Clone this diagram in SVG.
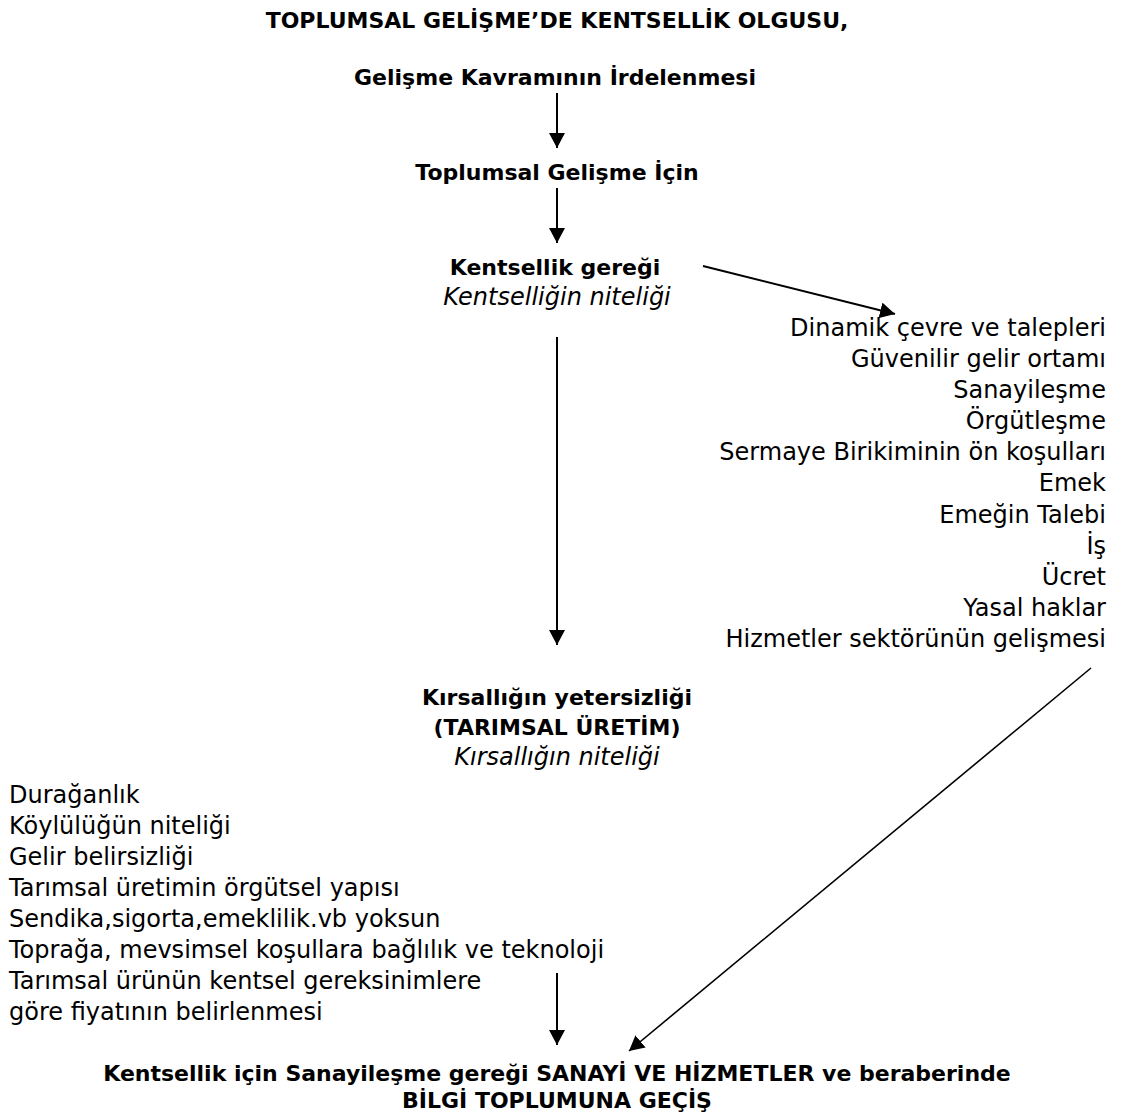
<svg xmlns="http://www.w3.org/2000/svg" width="1124" height="1120" viewBox="0 0 1124 1120">
<defs>
<marker id="ah" viewBox="0 0 15 16" refX="15" refY="8" markerWidth="15" markerHeight="16" markerUnits="userSpaceOnUse" orient="auto">
<path d="M0,0 L15,8 L0,16 z" fill="#000"/>
</marker>
<style>
text{font-family:"DejaVu Sans","Liberation Sans",sans-serif;fill:#000;font-size:24px}
.b{font-weight:bold;font-size:22px;text-anchor:middle}
.i{font-style:italic;text-anchor:middle}
.r{text-anchor:end}
.c line{stroke:#000;stroke-width:2;marker-end:url(#ah)}
.c line.t{stroke-width:1.6}
</style>
</defs>
<rect width="1124" height="1120" fill="#fff"/>
<g id="title"><text class="b" x="557" y="28">TOPLUMSAL GELİŞME’DE KENTSELLİK OLGUSU,</text></g>
<g id="n1"><text class="b" x="555" y="85">Gelişme Kavramının İrdelenmesi</text></g>
<g id="n2"><text class="b" x="557" y="180">Toplumsal Gelişme İçin</text></g>
<g id="n3"><text class="b" x="555" y="275">Kentsellik gereği</text><text class="i" x="557" y="305">Kentselliğin niteliği</text></g>
<g id="n4">
<text class="r" x="1106" y="336">Dinamik çevre ve talepleri</text>
<text class="r" x="1106" y="367">Güvenilir gelir ortamı</text>
<text class="r" x="1106" y="398">Sanayileşme</text>
<text class="r" x="1106" y="429">Örgütleşme</text>
<text class="r" x="1106" y="460">Sermaye Birikiminin ön koşulları</text>
<text class="r" x="1106" y="491">Emek</text>
<text class="r" x="1106" y="523">Emeğin Talebi</text>
<text class="r" x="1106" y="554">İş</text>
<text class="r" x="1106" y="585">Ücret</text>
<text class="r" x="1106" y="616">Yasal haklar</text>
<text class="r" x="1106" y="647">Hizmetler sektörünün gelişmesi</text>
</g>
<g id="n5"><text class="b" x="557" y="705">Kırsallığın yetersizliği</text><text class="b" x="557" y="735">(TARIMSAL ÜRETİM)</text><text class="i" x="557" y="765">Kırsallığın niteliği</text></g>
<g id="n6">
<text x="9" y="803">Durağanlık</text>
<text x="9" y="834">Köylülüğün niteliği</text>
<text x="9" y="865">Gelir belirsizliği</text>
<text x="9" y="896">Tarımsal üretimin örgütsel yapısı</text>
<text x="9" y="927">Sendika,sigorta,emeklilik.vb yoksun</text>
<text x="9" y="958">Toprağa, mevsimsel koşullara bağlılık ve teknoloji</text>
<text x="9" y="989">Tarımsal ürünün kentsel gereksinimlere</text>
<text x="9" y="1020">göre fiyatının belirlenmesi</text>
</g>
<g id="n7"><text class="b" x="557" y="1081">Kentsellik için Sanayileşme gereği SANAYİ VE HİZMETLER ve beraberinde</text><text class="b" x="557" y="1108">BİLGİ TOPLUMUNA GEÇİŞ</text></g>
<g class="c" id="connectors">
<line x1="557" y1="93" x2="557" y2="148"/>
<line x1="557" y1="188" x2="557" y2="243"/>
<line x1="703" y1="266" x2="895" y2="314"/>
<line x1="557" y1="337" x2="557" y2="645"/>
<line class="t" x1="1091" y1="668" x2="629" y2="1051"/>
<line x1="557" y1="973" x2="557" y2="1045"/>
</g>
</svg>
